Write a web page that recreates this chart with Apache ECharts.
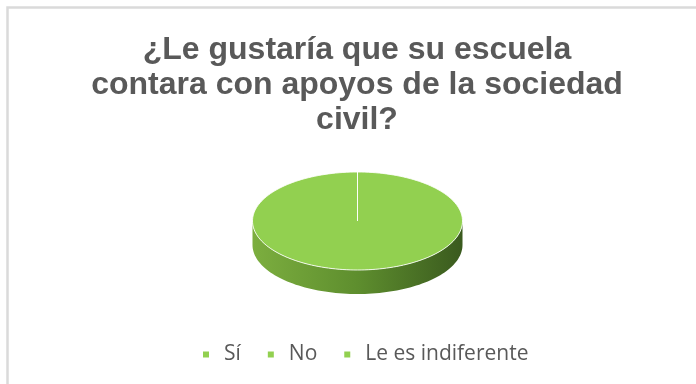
<!DOCTYPE html>
<html>
<head>
<meta charset="utf-8">
<script src="https://cdn.jsdelivr.net/npm/echarts@6/dist/echarts.min.js"></script>
<style>
  html, body { margin: 0; padding: 0; background: #ffffff; }
  #chart { width: 696px; height: 384px; }
</style>
</head>
<body>
<div id="chart"></div>
<script>
// Survey answers (share of respondents, %)
const categories = ['Sí', 'No', 'Le es indiferente'];
const values = [100, 0, 0];

const titleText = '¿Le gustaría que su escuela\ncontara con apoyos de la sociedad\ncivil?';

// Styling
const sliceColor = '#92d050';
const sideStops = [
  { offset: 0, color: '#7cae3f' },
  { offset: 0.5, color: '#5e8e2e' },
  { offset: 1, color: '#3a5a1e' }
];
const textGray = '#595959';

// Elliptical 3D pie geometry (pixels)
const pieLayout = { cx: 357.5, cy: 221, rx: 105, ry: 49, depth: 24 };

const total = values.reduce((a, b) => a + b, 0);

function pointAt(theta, dy) {
  const L = pieLayout;
  return [L.cx + L.rx * Math.sin(theta), L.cy - L.ry * Math.cos(theta) + dy];
}

function arcPoints(a0, a1, dy) {
  const pts = [];
  const n = Math.max(2, Math.ceil((a1 - a0) / (Math.PI * 2) * 180));
  for (let i = 0; i <= n; i++) {
    pts.push(pointAt(a0 + (a1 - a0) * i / n, dy));
  }
  return pts;
}

function renderSlice(params, api) {
  const idx = params.seriesIndex;
  const v = api.value(0);
  let before = 0;
  for (let i = 0; i < idx; i++) before += values[i];
  const a0 = before / total * Math.PI * 2;
  const a1 = (before + v) / total * Math.PI * 2;
  const L = pieLayout;
  const children = [];
  if (v <= 0) return { type: 'group', children: children };

  // Front-facing wall of the slice
  const s = Math.max(a0, Math.PI / 2);
  const e = Math.min(a1, Math.PI * 3 / 2);
  if (e > s) {
    const topEdge = arcPoints(s, e, 0);
    const bottomEdge = arcPoints(s, e, L.depth).reverse();
    children.push({
      type: 'polygon',
      z2: 1,
      shape: { points: topEdge.concat(bottomEdge) },
      style: {
        fill: {
          type: 'linear', x: L.cx - L.rx, y: 0, x2: L.cx + L.rx, y2: 0,
          global: true, colorStops: sideStops
        },
        stroke: null
      }
    });
  }

  // Top face of the slice
  const face = [[L.cx, L.cy]].concat(arcPoints(a0, a1, 0));
  children.push({
    type: 'polygon',
    z2: 2,
    shape: { points: face },
    style: {
      fill: sliceColor,
      stroke: 'rgba(255,255,255,0.85)',
      lineWidth: 1
    }
  });
  return { type: 'group', children: children };
}

const chart = echarts.init(document.getElementById('chart'), null, { renderer: 'canvas' });

chart.setOption({
  animation: false,
  backgroundColor: '#ffffff',
  title: {
    text: titleText,
    left: 357,
    top: 33,
    padding: 0,
    textAlign: 'center',
    textStyle: {
      fontFamily: 'Liberation Sans, Arial, sans-serif',
      fontWeight: 'bold',
      fontSize: 32,
      lineHeight: 35,
      color: textGray
    }
  },
  legend: {
    data: categories,
    left: 198,
    top: 339,
    icon: 'rect',
    itemWidth: 6,
    itemHeight: 6,
    itemGap: 27,
    textStyle: {
      fontFamily: 'Open Sans, sans-serif',
      fontSize: 21,
      lineHeight: 21,
      color: textGray,
      padding: [0, 0, 0, 10]
    }
  },
  graphic: [{
    type: 'polyline',
    shape: { points: [[7.5, 384], [7.5, 7.5], [696, 7.5]] },
    style: { stroke: '#dadada', lineWidth: 2.5, fill: null },
    silent: true
  }],
  series: categories.map((name, i) => ({
    type: 'custom',
    name: name,
    coordinateSystem: 'none',
    itemStyle: { color: sliceColor },
    renderItem: renderSlice,
    data: [[values[i]]]
  }))
});
</script>
</body>
</html>
